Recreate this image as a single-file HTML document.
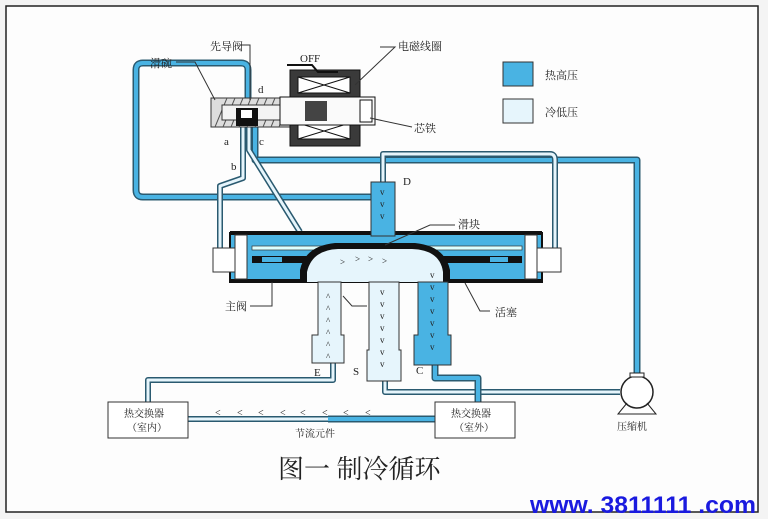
<!DOCTYPE html>
<html><head><meta charset="utf-8"><style>
html,body{margin:0;padding:0;background:#fff}
svg{display:block}
text{font-family:"Liberation Serif","Noto Serif CJK SC",serif;fill:#222}
</style></head><body>
<svg width="768" height="519" viewBox="0 0 768 519" xmlns="http://www.w3.org/2000/svg">
<rect x="0" y="0" width="768" height="519" fill="#f4f4f4"/>
<rect x="6" y="6" width="752" height="506" fill="#fdfdfd" stroke="#222" stroke-width="1.5"/>
<g fill="none" stroke-linejoin="round">
<path d="M248,100 V70 Q248,63 241,63 H143 Q136,63 136,70 V190 Q136,197 143,197 H372" stroke="#2a5a70" stroke-width="7"/>
<path d="M248,100 V70 Q248,63 241,63 H143 Q136,63 136,70 V190 Q136,197 143,197 H372" stroke="#49b3e3" stroke-width="4"/>
<path d="M255,125 V160 H637 V377" stroke="#2a5a70" stroke-width="7"/>
<path d="M255,125 V160 H637 V377" stroke="#49b3e3" stroke-width="4"/>
<path d="M383,182 V154 H550 Q555,154 555,160 V250" stroke="#2a5a70" stroke-width="6"/>
<path d="M383,182 V154 H550 Q555,154 555,160 V250" stroke="#e6f5fc" stroke-width="3"/>
<path d="M243,125 V178 L220,186 V250" stroke="#2a5a70" stroke-width="6"/>
<path d="M243,125 V178 L220,186 V250" stroke="#e6f5fc" stroke-width="3"/>
<path d="M249,125 V150 L300,232" stroke="#2a5a70" stroke-width="6"/>
<path d="M249,125 V150 L300,232" stroke="#e6f5fc" stroke-width="3"/>
<path d="M333,363 V380 H148 V402" stroke="#2a5a70" stroke-width="6"/>
<path d="M333,363 V380 H148 V402" stroke="#e6f5fc" stroke-width="3"/>
<path d="M385,380 V392 H620" stroke="#2a5a70" stroke-width="6"/>
<path d="M385,380 V392 H620" stroke="#e6f5fc" stroke-width="3"/>
<path d="M435,365 V378 H478 V402" stroke="#2a5a70" stroke-width="7"/>
<path d="M435,365 V378 H478 V402" stroke="#49b3e3" stroke-width="4"/>
<path d="M188,419 H328" stroke="#2a5a70" stroke-width="6"/>
<path d="M188,419 H328" stroke="#e6f5fc" stroke-width="3"/>
<path d="M328,419 H435" stroke="#2a5a70" stroke-width="7"/>
<path d="M328,419 H435" stroke="#49b3e3" stroke-width="4"/>
</g>
<g fill="#333" font-size="10">
<text x="215" y="416">&lt;</text><text x="237" y="416">&lt;</text><text x="258" y="416">&lt;</text><text x="280" y="416">&lt;</text><text x="300" y="416">&lt;</text><text x="322" y="416">&lt;</text><text x="343" y="416">&lt;</text><text x="365" y="416">&lt;</text>
</g>
<rect x="211" y="98" width="80" height="29" fill="#ddd" stroke="#333"/>
<g stroke="#555" stroke-width="1">
<path d="M215,127 l12,-29 M223,127 l12,-29 M231,127 l12,-29 M239,127 l12,-29 M247,127 l12,-29 M255,127 l12,-29 M263,127 l12,-29 M271,127 l12,-29 M279,127 l12,-29"/>
</g>
<rect x="222" y="105" width="70" height="15" fill="#f3f3f3" stroke="#333"/>
<rect x="236" y="108" width="22" height="18" fill="#111"/>
<rect x="241" y="110" width="11" height="8" fill="#fff"/>
<rect x="290" y="70" width="70" height="76" fill="#3a3a3a" stroke="#111"/>
<rect x="298" y="77" width="52" height="16" fill="#fff" stroke="#111"/>
<path d="M298,77 L350,93 M350,77 L298,93" stroke="#111"/>
<rect x="298" y="123" width="52" height="16" fill="#fff" stroke="#111"/>
<path d="M298,123 L350,139 M350,123 L298,139" stroke="#111"/>
<rect x="280" y="97" width="95" height="28" fill="#fafafa" stroke="#111"/>
<rect x="305" y="101" width="22" height="20" fill="#444"/>
<rect x="360" y="100" width="12" height="22" fill="#fff" stroke="#111"/>
<path d="M287,65 H312 L318,72 H338" fill="none" stroke="#111" stroke-width="2"/>
<rect x="230" y="233" width="312" height="49" fill="#49b3e3" stroke="#111" stroke-width="2"/>
<rect x="230" y="231" width="312" height="4" fill="#111"/>
<rect x="230" y="279" width="312" height="4" fill="#111"/>
<rect x="213" y="248" width="22" height="24" fill="#fff" stroke="#333"/>
<rect x="537" y="248" width="24" height="24" fill="#fff" stroke="#333"/>
<rect x="235" y="235" width="12" height="44" fill="#fff" stroke="#333"/>
<rect x="525" y="235" width="12" height="44" fill="#fff" stroke="#333"/>
<rect x="252" y="246" width="270" height="4" fill="#dff" stroke="#333" stroke-width=".7"/>
<rect x="252" y="256" width="270" height="7" fill="#111"/>
<rect x="262" y="257" width="20" height="5" fill="#49b3e3"/>
<rect x="490" y="257" width="18" height="5" fill="#49b3e3"/>
<path d="M300,282 V270 Q305,246 335,243 H415 Q445,246 450,270 V282 Z" fill="#111"/>
<path d="M307,282 V272 Q312,250 338,249 H412 Q440,250 443,272 V282 Z" fill="#e6f5fc"/>
<rect x="371" y="182" width="24" height="54" fill="#49b3e3" stroke="#333"/>
<path d="M318,282 H341 V335 H344 V363 H312 V335 H318 Z" fill="#e6f5fc" stroke="#333"/>
<path d="M369,282 H399 V350 H401 V381 H367 V350 H369 Z" fill="#e6f5fc" stroke="#333"/>
<path d="M418,282 H448 V335 H451 V365 H414 V335 H418 Z" fill="#49b3e3" stroke="#333"/>
<path d="M343,296 L352,306 H367" fill="none" stroke="#333"/>
<g font-size="9" fill="#223">
<text x="326" y="300">^</text><text x="326" y="312">^</text><text x="326" y="324">^</text><text x="326" y="336">^</text><text x="326" y="348">^</text><text x="326" y="360">^</text>
<text x="380" y="295">v</text><text x="380" y="307">v</text><text x="380" y="319">v</text><text x="380" y="331">v</text><text x="380" y="343">v</text><text x="380" y="355">v</text><text x="380" y="367">v</text>
<text x="430" y="278">v</text><text x="430" y="290">v</text><text x="430" y="302">v</text><text x="430" y="314">v</text><text x="430" y="326">v</text><text x="430" y="338">v</text><text x="430" y="350">v</text>
<text x="380" y="195">v</text><text x="380" y="207">v</text><text x="380" y="219">v</text>
<text x="340" y="265">&gt;</text><text x="355" y="262">&gt;</text><text x="368" y="262">&gt;</text><text x="382" y="264">&gt;</text>
</g>
<rect x="108" y="402" width="80" height="36" fill="#fff" stroke="#333"/>
<rect x="435" y="402" width="80" height="36" fill="#fff" stroke="#333"/>
<circle cx="637" cy="392" r="16" fill="#fff" stroke="#222" stroke-width="1.5"/>
<path d="M627,403 L618,414 H656 L647,403" fill="none" stroke="#222"/>
<rect x="630" y="373" width="14" height="4" fill="#fff" stroke="#222"/>
<rect x="503" y="62" width="30" height="24" fill="#49b3e3" stroke="#333"/>
<rect x="503" y="99" width="30" height="24" fill="#e6f5fc" stroke="#333"/>
<g stroke="#333" fill="none">
<path d="M240,45 H250 V100"/>
<path d="M380,47 H395 L355,85"/>
<path d="M176,62 H195 L215,100"/>
<path d="M412,127 L370,118"/>
<path d="M455,225 L430,225 L385,245"/>
<path d="M250,306 H272 V282"/>
<path d="M490,311 H480 L465,283"/>
</g>
<g font-size="11">
<text x="210" y="50">先导阀</text>
<text x="300" y="62">OFF</text>
<text x="398" y="50">电磁线圈</text>
<text x="150" y="67">滑碗</text>
<text x="414" y="132">芯铁</text>
<text x="258" y="93">d</text>
<text x="224" y="145">a</text>
<text x="259" y="145">c</text>
<text x="231" y="170">b</text>
<text x="403" y="185">D</text>
<text x="458" y="228">滑块</text>
<text x="225" y="310">主阀</text>
<text x="495" y="316">活塞</text>
<text x="314" y="376">E</text>
<text x="353" y="375">S</text>
<text x="416" y="374">C</text>
<text x="545" y="79">热高压</text>
<text x="545" y="116">冷低压</text>
<text x="124" y="417" font-size="10">热交换器</text>
<text x="127" y="431" font-size="10">（室内）</text>
<text x="451" y="417" font-size="10">热交换器</text>
<text x="454" y="431" font-size="10">（室外）</text>
<text x="295" y="437" font-size="10">节流元件</text>
<text x="617" y="430" font-size="10">压缩机</text>
</g>
<text x="278" y="478" font-size="26">图一  制冷循环</text>
<text x="530" y="513" font-size="24" font-weight="bold" textLength="226" lengthAdjust="spacingAndGlyphs" style="fill:#1a1adf;font-family:'Liberation Sans',sans-serif">www. 3811111 .com</text>
</svg>
</body></html>
